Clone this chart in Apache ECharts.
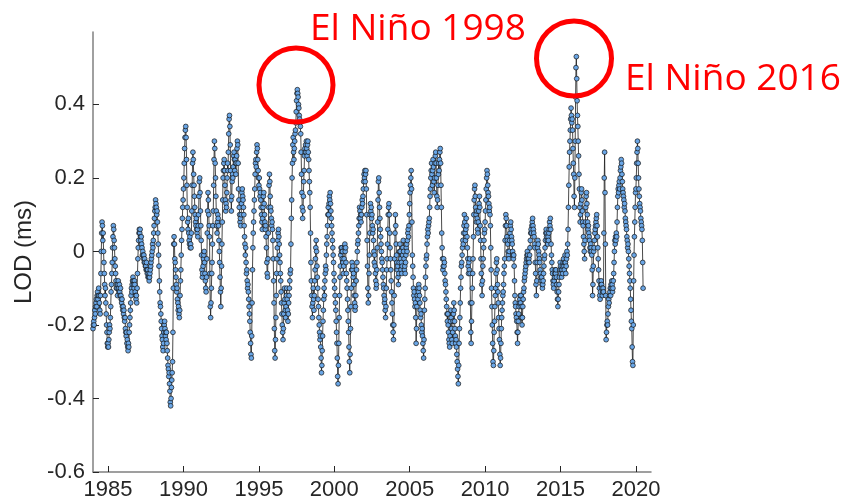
<!DOCTYPE html>
<html><head><meta charset="utf-8">
<script src="https://cdn.jsdelivr.net/npm/echarts@6/dist/echarts.min.js"></script>
<style>html,body{margin:0;padding:0;background:#fff}#c{width:849px;height:501px}</style>
</head><body><div id="c"></div>
<script>
// LOD anomaly (ms), sampled 40 times per year, each block starts at Jan 1 of its first year
const samplesPerYear = 40;
const lod1984 = [
-.21,-.20,-.19,-.20,-.18,-.16,-.17,-.15,-.14,-.13,-.15,-.12,-.11,-.13,-.12,-.10,-.12,-.14,-.16,-.17,-.12,-.06,0,.05,.08,.07,.03,.05,0,-.03,-.06,-.09,-.12,-.10,-.14,-.17,-.20,-.22,-.25,-.26,
-.25,-.26,-.24,-.22,-.20,-.21,-.18,-.15,-.11,-.09,-.06,-.03,.01,.04,.07,.06,.03,.01,-.02,-.04,-.06,-.08,-.10,-.09,-.10,-.12,-.09,-.08,-.10,-.11,-.09,-.11,-.12,-.10,-.12,-.13,-.14,-.13,-.15,-.16,
-.15,-.17,-.16,-.18,-.19,-.18,-.21,-.22,-.23,-.22,-.25,-.24,-.26,-.27,-.25,-.26,-.22,-.20,-.18,-.16,-.14,-.12,-.10,-.11,-.09,-.08,-.07,-.08,-.09,-.10,-.08,-.09,-.11,-.12,-.13,-.12,-.14,-.10,-.06,-.02,
.01,.03,.05,.06,.05,.06,.04,.03,.04,.02,.01,-.01,0,-.01,-.02,-.01,-.03,-.02,-.03,-.04,-.04,-.05,-.03,-.05,-.06,-.05,-.07,-.06,-.07,-.08,-.07,-.06,-.05,-.04,-.03,-.02,-.01,0,.02,.01];
const lod1988 = [
.03,.05,.07,.09,.11,.12,.14,.13,.12,.10,.11,.08,.05,.02,-.01,-.04,-.08,-.11,-.14,-.15,-.17,-.19,-.21,-.23,-.24,-.26,-.27,-.25,-.22,-.20,-.19,-.21,-.23,-.22,-.24,-.22,-.25,-.27,-.29,-.31,
-.32,-.34,-.33,-.36,-.38,-.41,-.42,-.40,-.37,-.35,-.33,-.30,-.22,-.10,.02,.04,.02,-.02,-.03,-.05,-.07,-.09,-.11,-.10,-.13,-.14,-.16,-.15,-.17,-.18,-.16,-.12,-.08,-.05,-.01,.03,.06,.09,.12,.14,
.17,.20,.24,.28,.31,.33,.34,.31,.25,.18,.12,.08,.06,.09,.05,.03,.02,.04,.01,.02,.01,.05,.11,.18,.24,.27,.25,.21,.18,.15,.12,.10,.08,.07,.09,.06,.05,.06,.04,.07,
.10,.15,.19,.20,.16,.11,.07,.03,-.01,-.05,-.07,-.06,-.04,-.02,-.01,0,-.03,-.06,-.08,-.10,-.11,-.07,-.02,.05,.11,.16,.14,.10,.07,.04,-.06,-.15,-.18,-.14,-.10,-.06,-.03,.02,.07,.11];
const lod1992 = [
.18,.25,.30,.28,.24,.20,.15,.11,.07,.05,.08,.10,.09,.07,.03,0,-.03,-.07,-.11,-.15,-.10,-.04,.02,.08,.14,.20,.22,.24,.25,.22,.18,.14,.11,.13,.12,.16,.20,.24,.22,.27,
.32,.36,.37,.34,.29,.22,.14,.11,.15,.19,.21,.20,.23,.26,.27,.25,.22,.25,.24,.21,.24,.26,.28,.30,.29,.24,.17,.14,.12,.10,.08,.09,.07,.10,.13,.16,.17,.15,.14,.12,
.10,.07,.04,.02,-.01,.01,-.03,-.06,-.05,-.08,-.10,-.09,-.11,-.13,-.15,-.17,-.19,-.22,-.25,-.28,-.29,-.23,-.14,-.05,.01,.05,.08,.11,.14,.17,.21,.24,.25,.23,.27,.29,.28,.25,.22,.20,
.18,.20,.17,.15,.16,.14,.12,.10,.08,.06,.09,.12,.15,.16,.13,.10,.08,.06,.07,.04,.01,-.03,-.06,-.07,-.02,.05,.12,.18,.21,.19,.15,.12,.11,.09,.07,.08,.06,.03,-.02,-.08];
const lod1996 = [
-.14,-.21,-.27,-.29,-.24,-.18,-.12,-.06,-.02,.01,.03,.05,.06,.04,.02,-.01,-.03,-.06,-.08,-.11,-.14,-.17,-.20,-.22,-.24,-.21,-.17,-.14,-.10,-.13,-.16,-.18,-.15,-.12,-.10,-.13,-.16,-.19,-.17,-.14,
-.12,-.10,-.08,-.06,-.05,.02,.09,.14,.20,.24,.29,.31,.27,.25,.28,.30,.32,.33,.35,.38,.41,.43,.44,.43,.42,.40,.39,.37,.36,.35,.34,.32,.27,.21,.16,.12,.09,.11,.15,.19,
.22,.26,.28,.27,.29,.27,.30,.28,.26,.29,.30,.27,.25,.22,.19,.16,.12,.05,-.03,-.08,-.12,-.15,-.18,-.14,-.10,-.13,-.16,-.12,-.08,-.05,-.02,.01,.03,0,-.04,-.07,-.10,-.13,-.15,-.18,
-.20,-.22,-.24,-.23,-.26,-.29,-.33,-.31,-.27,-.23,-.19,-.16,-.13,-.10,-.12,-.08,-.06,-.04,-.05,-.01,.02,.04,.07,.10,.12,.10,.13,.15,.14,.16,.13,.11,.09,.07,.05,.03,.01,-.01,-.03,-.06];
const lod2000 = [
-.08,-.10,-.12,-.14,-.16,-.19,-.22,-.25,-.29,-.34,-.36,-.31,-.25,-.18,-.12,-.07,-.04,-.01,.01,0,.01,-.02,0,-.03,-.06,-.04,-.02,.01,.02,0,.01,-.03,-.06,-.08,-.10,-.13,-.16,-.19,-.22,-.26,
-.30,-.33,-.28,-.21,-.15,-.10,-.05,-.03,-.05,-.04,-.07,-.06,-.09,-.12,-.14,-.16,-.15,-.12,-.08,-.05,-.03,0,.02,.03,.05,.07,.09,.12,.11,.09,.10,.08,.10,.12,.14,.13,.15,.17,.19,.21,
.20,.22,.19,.21,.22,.17,.10,.03,-.04,-.10,-.14,-.12,-.06,-.01,.05,.10,.13,.11,.12,.09,.10,.07,.05,.06,.03,0,-.03,-.01,-.04,-.06,-.08,-.10,-.09,-.05,.01,.08,.14,.19,.20,.16,
.12,.09,.06,.04,.02,0,-.02,-.03,-.05,-.07,-.09,-.10,-.12,-.14,-.13,-.16,-.18,-.15,-.10,-.05,-.02,.02,.06,.10,.12,.13,.10,.05,.01,-.02,-.05,-.08,-.11,-.14,-.17,-.20,-.22,-.24,-.20,-.12];
const lod2004 = [
-.02,.05,.10,.07,.02,-.01,-.03,-.05,-.04,-.07,-.09,-.06,-.03,0,.02,0,-.02,-.05,-.03,-.06,-.04,-.01,.01,.03,0,-.02,-.05,-.04,-.06,-.03,-.01,.01,.02,0,.03,.05,.06,.04,.07,.10,
.13,.16,.18,.20,.22,.17,.08,-.01,-.04,-.07,-.10,-.12,-.11,-.13,-.15,-.14,-.18,-.25,-.21,-.15,-.12,-.10,-.13,-.11,-.09,-.10,-.12,-.14,-.16,-.18,-.17,-.20,-.22,-.21,-.23,-.25,-.27,-.29,-.24,-.16,
-.13,-.10,-.07,-.04,-.02,-.01,.02,.04,.06,.05,.07,.08,.09,.12,.15,.17,.20,.22,.24,.21,.18,.22,.25,.23,.19,.16,.20,.24,.26,.27,.24,.20,.15,.12,.14,.18,.21,.24,.22,.25,
.27,.28,.24,.18,.12,.05,.01,-.02,-.05,-.04,-.02,-.04,-.03,-.06,-.08,-.09,-.11,-.13,-.15,-.17,-.19,-.17,-.20,-.22,-.24,-.25,-.26,-.23,-.19,-.16,-.18,-.21,-.24,-.25,-.22,-.19,-.17,-.14,-.16,-.19];
const lod2008 = [
-.21,-.23,-.25,-.24,-.26,-.28,-.30,-.32,-.34,-.36,-.31,-.25,-.21,-.18,-.14,-.10,-.07,-.04,-.03,-.01,.01,.03,.02,.05,.07,.10,.08,.05,.03,.06,.09,.07,.04,.01,-.02,-.04,-.06,-.03,-.05,-.02,
-.06,-.14,-.22,-.25,-.19,-.14,-.10,-.06,-.02,.04,.10,.14,.17,.18,.15,.12,.10,.08,.11,.09,.06,.05,.08,.11,.13,.15,.12,.07,.03,-.02,-.06,-.09,-.12,-.08,-.04,-.02,.01,.03,.05,.06,
.08,.11,.14,.17,.20,.22,.21,.18,.16,.15,.13,.11,.12,.10,.07,.01,-.05,-.10,-.15,-.20,-.25,-.30,-.31,-.27,-.22,-.19,-.15,-.12,-.10,-.06,-.03,-.02,-.05,-.09,-.11,-.14,-.18,-.21,-.24,-.28,
-.31,-.29,-.25,-.21,-.18,-.16,-.14,-.12,-.11,-.09,-.06,-.04,-.02,.03,.07,.10,.09,.07,.04,.03,.02,0,-.01,-.02,0,.03,.05,.07,.08,.06,.04,.03,.02,0,-.01,-.02,-.01,-.04,-.08,-.12];
const lod2012 = [
-.14,-.15,-.17,-.18,-.19,-.22,-.25,-.22,-.19,-.17,-.15,-.14,-.13,-.12,-.14,-.12,-.15,-.18,-.20,-.18,-.15,-.13,-.11,-.10,-.08,-.07,-.06,-.05,-.04,-.03,-.02,-.01,0,-.01,-.02,-.03,-.02,-.03,-.01,.01,
.03,.05,.06,.05,.07,.08,.09,.07,.06,.05,.04,.02,.01,-.03,-.06,-.09,-.12,-.08,-.03,.01,.03,.02,0,-.01,-.02,-.03,-.05,-.06,-.07,-.08,-.07,-.09,-.10,-.09,-.08,-.06,-.04,-.02,-.01,.01,
.03,.05,.06,.04,.05,.03,.02,.04,.03,.05,.06,.08,.07,.09,.06,.02,-.01,-.03,-.05,-.06,-.08,-.09,-.10,-.08,-.07,-.06,-.05,-.06,-.05,-.07,-.09,-.11,-.13,-.15,-.13,-.11,-.09,-.07,-.05,-.03,
-.04,-.06,-.05,-.07,-.05,-.04,-.06,-.03,-.02,-.04,-.05,-.03,-.01,-.03,-.06,-.04,-.02,0,-.01,.02,.06,.12,.18,.23,.27,.30,.33,.36,.39,.37,.35,.36,.33,.28,.24,.21,.15,.12,.20,.30];
const lod2016 = [
.42,.50,.53,.47,.41,.37,.34,.30,.26,.21,.17,.12,.08,.10,.13,.16,.17,.14,.11,.08,.07,.04,.02,0,-.02,.03,.08,.12,.15,.16,.13,.10,.08,.06,.07,.05,.04,.03,.01,0,
.02,.01,0,-.01,-.05,-.12,-.09,-.04,0,.01,.03,.05,.06,.07,.08,.09,.10,.07,.04,.01,-.02,-.05,-.08,-.10,-.12,-.13,-.11,-.09,-.08,-.09,-.10,-.12,-.11,-.10,-.11,.05,.20,.27,.16,.02,
-.12,-.24,-.22,-.20,-.19,-.20,-.17,-.15,-.13,-.14,-.12,-.11,-.10,-.12,-.09,-.10,-.08,-.09,-.11,-.10,-.08,-.06,-.03,0,.03,.02,.04,.03,.05,.04,.08,.12,.15,.17,.16,.18,.19,.17,.20,.22,
.23,.25,.24,.21,.19,.17,.16,.15,.14,.12,.13,.11,.09,.08,.07,.06,.04,.03,.01,.02,0,-.02,-.04,-.06,-.08,-.10,-.13,-.16,-.19,-.21,-.26,-.30,-.31,-.20,-.08,-.01,.04,.08,.12,.16,
.17,.20,.24,.27,.30,.28,.24,.20,.17,.15,.13,.12,.11,.09,.08,.07,.06,.03,-.03,-.10];

const blockStarts = [1984, 1988, 1992, 1996, 2000, 2004, 2008, 2012, 2016];
const blockValues = [lod1984, lod1988, lod1992, lod1996, lod2000, lod2004, lod2008, lod2012, lod2016];
const xTicks = [1985, 1990, 1995, 2000, 2005, 2010, 2015, 2020];
const yTicks = [-0.6, -0.4, -0.2, 0, 0.2, 0.4];
const yAxisName = 'LOD (ms)';
const notes = ['El Niño 1998', 'El Niño 2016'];

const data = [];
blockValues.forEach((arr, b) => arr.forEach((v, i) => data.push([blockStarts[b] + i / samplesPerYear, v])));

const chart = echarts.init(document.getElementById('c'), null, {renderer: 'canvas'});
const axisFont = 'Liberation Sans';
chart.setOption({
  animation: false,
  backgroundColor: '#ffffff',
  grid: {left: 93, right: 198, top: 32, bottom: 29, containLabel: false},
  xAxis: {
    type: 'value', min: 1984, max: 2021,
    axisLine: {show: true, onZero: false, lineStyle: {color: '#808080', width: 1.5}},
    axisTick: {show: true, inside: true, length: 6, customValues: xTicks, lineStyle: {color: '#262626', width: 1}},
    axisLabel: {customValues: xTicks, color: '#262626', fontSize: 22, fontFamily: axisFont, margin: 7,
      formatter: v => String(Math.round(v))},
    splitLine: {show: false}
  },
  yAxis: {
    type: 'value', min: -0.6, max: 0.597,
    name: yAxisName, nameLocation: 'middle', nameGap: 50,
    nameTextStyle: {fontSize: 24, color: '#262626', fontFamily: axisFont},
    axisLine: {show: true, onZero: false, lineStyle: {color: '#808080', width: 1.5}},
    axisTick: {show: true, inside: true, length: 6, customValues: yTicks, lineStyle: {color: '#262626', width: 1}},
    axisLabel: {customValues: yTicks, color: '#262626', fontSize: 22, fontFamily: axisFont, margin: 8,
      formatter: v => (Math.abs(v) < 1e-9 ? '0' : v.toFixed(1))},
    splitLine: {show: false}
  },
  series: [{
    type: 'line', data: data, silent: true,
    symbol: 'circle', symbolSize: 4.8, showSymbol: true, showAllSymbol: true,
    lineStyle: {color: '#1a1a1a', width: 0.8},
    itemStyle: {color: '#6aa6e6', borderColor: '#111111', borderWidth: 0.7},
    emphasis: {disabled: true}
  }],
  graphic: [
    {type: 'circle', z: 100, shape: {cx: 296, cy: 85, r: 37}, style: {fill: 'none', stroke: '#ff0000', lineWidth: 5}},
    {type: 'circle', z: 100, shape: {cx: 574, cy: 58.5, r: 37.5}, style: {fill: 'none', stroke: '#ff0000', lineWidth: 5}},
    {type: 'text', z: 100, x: 310, y: 29, style: {text: notes[0], fill: '#ff0000', font: '37px "Open Sans"', verticalAlign: 'middle'}},
    {type: 'text', z: 100, x: 625, y: 79, style: {text: notes[1], fill: '#ff0000', font: '37px "Open Sans"', verticalAlign: 'middle'}}
  ]
});
</script></body></html>
